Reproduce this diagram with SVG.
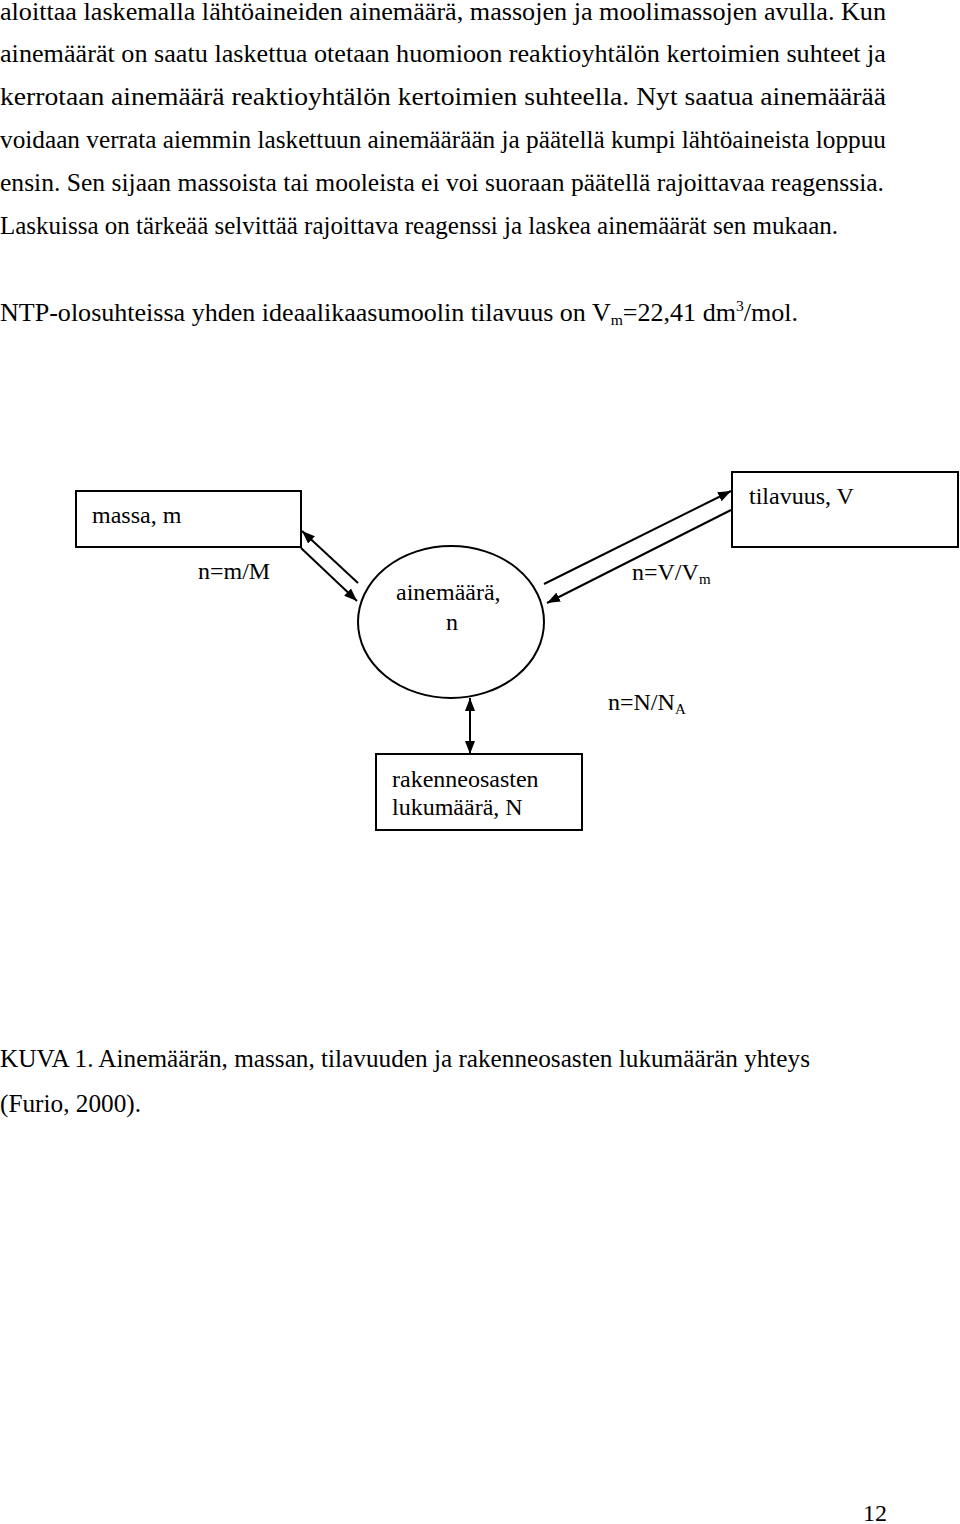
<svg xmlns="http://www.w3.org/2000/svg" width="960" height="1524" viewBox="0 0 960 1524">
<style>
text{font-family:"Liberation Serif","Times New Roman",serif;font-size:24px;fill:#000}
.p{font-size:25px}
.sub{font-size:15px}
.box{fill:#fff;stroke:#000;stroke-width:2}
.conn line{stroke:#000;stroke-width:2}
</style>
<defs>
<marker id="ah" viewBox="0 0 13 10" refX="13" refY="5" markerWidth="13" markerHeight="10" markerUnits="userSpaceOnUse" orient="auto-start-reverse">
<path d="M0,0 L13,5 L0,10 z" fill="#000"/>
</marker>
</defs>
<rect width="960" height="1524" fill="#fff"/>
<g id="body-text">
<text class="p" x="0" y="20" textLength="886" lengthAdjust="spacingAndGlyphs">aloittaa laskemalla lähtöaineiden ainemäärä, massojen ja moolimassojen avulla. Kun</text>
<text class="p" x="0" y="62" textLength="886" lengthAdjust="spacingAndGlyphs">ainemäärät on saatu laskettua otetaan huomioon reaktioyhtälön kertoimien suhteet ja</text>
<text class="p" x="0" y="105" textLength="886" lengthAdjust="spacingAndGlyphs">kerrotaan ainemäärä reaktioyhtälön kertoimien suhteella. Nyt saatua ainemäärää</text>
<text class="p" x="0" y="148" textLength="886" lengthAdjust="spacingAndGlyphs">voidaan verrata aiemmin laskettuun ainemäärään ja päätellä kumpi lähtöaineista loppuu</text>
<text class="p" x="0" y="191" textLength="884" lengthAdjust="spacingAndGlyphs">ensin. Sen sijaan massoista tai mooleista ei voi suoraan päätellä rajoittavaa reagenssia.</text>
<text class="p" x="0" y="234" textLength="838" lengthAdjust="spacingAndGlyphs">Laskuissa on tärkeää selvittää rajoittava reagenssi ja laskea ainemäärät sen mukaan.</text>
<text class="p" x="0" y="321" textLength="798" lengthAdjust="spacingAndGlyphs">NTP-olosuhteissa yhden ideaalikaasumoolin tilavuus on V<tspan class="sub" dy="4">m</tspan><tspan dy="-4">=22,41 dm</tspan><tspan class="sub" dy="-10">3</tspan><tspan dy="10">/mol.</tspan></text>
</g>
<g id="connectors" class="conn">
<line x1="358" y1="583" x2="302" y2="531" marker-end="url(#ah)"/>
<line x1="301" y1="548" x2="357" y2="601" marker-end="url(#ah)"/>
<line x1="544" y1="584" x2="731" y2="491" marker-end="url(#ah)"/>
<line x1="731" y1="510" x2="547" y2="603" marker-end="url(#ah)"/>
<line x1="470" y1="698" x2="470" y2="754" marker-start="url(#ah)" marker-end="url(#ah)"/>
</g>
<g id="node-massa">
<rect class="box" x="76" y="491" width="225" height="56"/>
<text x="92" y="523">massa, m</text>
</g>
<g id="node-tilavuus">
<rect class="box" x="732" y="472" width="226" height="75"/>
<text x="749" y="504">tilavuus, V</text>
</g>
<g id="node-ainemaara">
<ellipse cx="451" cy="622" rx="93" ry="76" fill="#fff" stroke="#000" stroke-width="2"/>
<text x="396" y="600">ainemäärä,</text>
<text x="446" y="630">n</text>
</g>
<g id="node-rakenneosasten">
<rect class="box" x="376" y="754" width="206" height="76"/>
<text x="392" y="787">rakenneosasten</text>
<text x="392" y="815">lukumäärä, N</text>
</g>
<g id="labels">
<text x="198" y="579">n=m/M</text>
<text x="632" y="580">n=V/V<tspan class="sub" dy="4">m</tspan></text>
<text x="608" y="710">n=N/N<tspan class="sub" dy="4">A</tspan></text>
</g>
<g id="caption">
<text class="p" x="0" y="1067" textLength="810" lengthAdjust="spacingAndGlyphs">KUVA 1. Ainemäärän, massan, tilavuuden ja rakenneosasten lukumäärän yhteys</text>
<text class="p" x="0" y="1112" textLength="141" lengthAdjust="spacingAndGlyphs">(Furio, 2000).</text>
<text x="863" y="1521">12</text>
</g>
</svg>
